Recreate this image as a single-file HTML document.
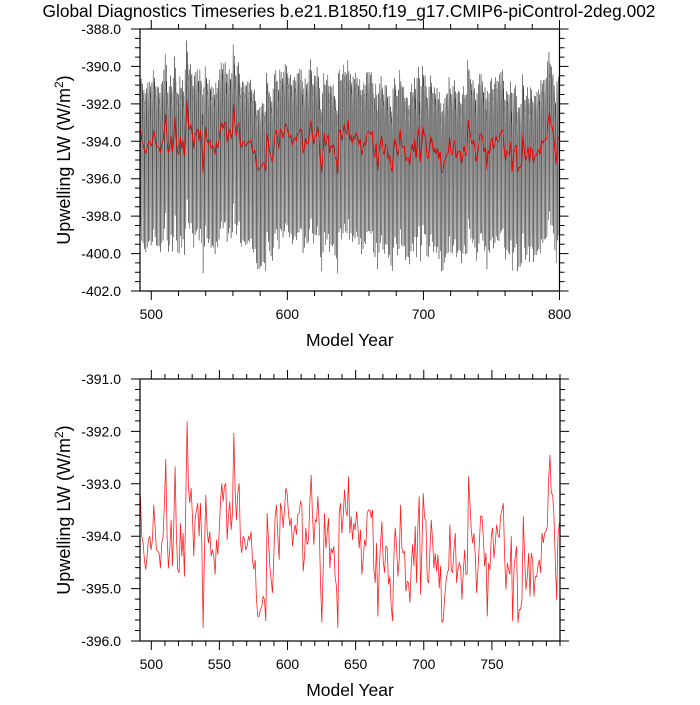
<!DOCTYPE html>
<html><head><meta charset="utf-8"><style>
html,body{margin:0;padding:0;background:#fff;}
svg text{font-family:"Liberation Sans",sans-serif;fill:#000;}
</style></head><body>
<svg id="chart" width="700" height="700" xmlns="http://www.w3.org/2000/svg">
<text x="349" y="17" font-size="17.3" text-anchor="middle">Global Diagnostics Timeseries b.e21.B1850.f19_g17.CMIP6-piControl-2deg.002</text>
<g id="top"></g>
<g id="bot"></g>
</svg>
<script>
const annualValues = [-393.24,-394.00,-394.13,-394.45,-394.64,-394.38,-394.07,-394.00,-394.26,-394.07,-393.40,-393.81,-394.26,-394.29,-394.32,-394.61,-394.13,-394.00,-393.37,-392.53,-394.00,-394.61,-394.26,-393.69,-394.57,-393.81,-392.67,-394.00,-394.64,-394.70,-393.75,-394.38,-393.94,-394.77,-393.37,-391.81,-393.05,-393.37,-393.08,-393.62,-394.38,-393.69,-393.50,-393.37,-394.00,-393.37,-394.13,-395.75,-394.32,-393.21,-393.88,-394.13,-393.91,-394.38,-394.26,-394.38,-394.73,-394.07,-394.35,-393.94,-393.37,-392.99,-393.34,-393.05,-392.99,-394.07,-393.62,-393.34,-393.88,-393.56,-392.03,-393.11,-393.69,-393.18,-392.99,-394.13,-394.32,-394.00,-394.07,-394.26,-394.19,-394.00,-394.07,-393.91,-394.45,-394.64,-394.45,-395.21,-395.53,-395.53,-395.40,-395.34,-395.15,-395.21,-395.62,-393.56,-394.07,-394.57,-394.83,-395.08,-394.38,-393.62,-393.40,-394.00,-394.45,-393.37,-393.50,-393.84,-393.50,-393.08,-393.18,-393.56,-393.81,-393.65,-394.19,-393.94,-393.78,-393.97,-393.59,-393.56,-393.34,-393.40,-394.67,-394.38,-393.84,-394.16,-394.07,-393.37,-392.83,-393.62,-394.16,-393.69,-393.72,-393.24,-393.75,-394.89,-395.65,-394.64,-393.56,-394.23,-393.94,-393.65,-394.61,-394.23,-394.32,-394.19,-394.80,-394.96,-395.75,-393.56,-393.37,-393.94,-393.62,-393.11,-393.50,-393.62,-392.86,
-393.94,-393.62,-394.07,-393.75,-393.88,-393.53,-393.81,-394.23,-393.88,-394.73,-394.45,-394.07,-394.19,-393.56,-393.50,-393.50,-393.65,-393.50,-394.64,-394.89,-394.13,-395.53,-394.64,-394.13,-393.72,-394.48,-394.70,-394.19,-394.23,-394.92,-394.77,-395.34,-395.62,-394.38,-393.84,-394.19,-394.77,-394.45,-393.40,-394.23,-394.32,-394.29,-395.05,-394.86,-394.89,-395.27,-394.57,-394.16,-394.57,-393.81,-394.89,-393.81,-393.24,-395.11,-394.26,-393.18,-393.65,-393.69,-394.83,-394.89,-394.29,-393.69,-394.07,-394.61,-394.32,-394.67,-394.35,-394.99,-394.57,-395.65,-395.59,-395.18,-394.89,-394.70,-394.64,-393.78,-394.64,-394.70,-394.26,-393.94,-394.89,-394.64,-394.51,-394.57,-395.21,-394.70,-394.26,-394.73,-394.70,-392.86,-393.37,-393.88,-394.13,-393.94,-394.38,-395.08,-394.64,-394.16,-393.62,-393.62,-394.00,-394.57,-394.32,-395.53,-394.51,-394.64,-394.00,-393.84,-394.42,-394.13,-393.78,-393.97,-394.03,-393.62,-393.50,-393.37,-394.38,-395.02,-394.51,-394.64,-394.73,-394.00,-395.62,-394.64,-394.38,-394.19,-395.65,-395.40,-395.40,-395.21,-393.62,-394.38,-395.02,-394.77,-394.32,-395.15,-394.32,-394.45,-395.15,-394.77,-394.77,-394.57,-394.45,-394.70,-393.94,-394.13,-393.94,-393.91,-393.81,-392.92,-392.45,-393.18,-393.21,-393.62,-394.51,-395.21,-394.00,-393.75];
const firstYear = 492, lastYear = 799.5;
const monthlyClimatology = [2.6,3.2,2.6,1.7,-0.2,-3.0,-5.3,-4.7,-2.0,0.6,2.0,2.6];
const topYTicks = [-388,-390,-392,-394,-396,-398,-400,-402];
const topXTicks = [500,600,700,800];
const botYTicks = [-391,-392,-393,-394,-395,-396];
const botXTicks = [500,550,600,650,700,750];

const NS='http://www.w3.org/2000/svg';
function mk(tag, attrs, parent){const e=document.createElementNS(NS,tag);for(const k in attrs)e.setAttribute(k,attrs[k]);parent.appendChild(e);return e;}
const years = annualValues.map((v,i)=>firstYear+i*(lastYear-firstYear)/(annualValues.length-1));

function panel(g, box, xr, yr, xt, xMinorStep, yt, yMinorStep, yDec, prefix){
  const sx=v=>box.l+(v-xr[0])/(xr[1]-xr[0])*(box.r-box.l);
  const sy=v=>box.t+(yr[0]-v)/(yr[0]-yr[1])*(box.b-box.t);
  const tk=[];
  for(let v=Math.ceil(xr[0]/xMinorStep)*xMinorStep; v<=xr[1]+1e-6; v+=xMinorStep){
    const major=xt.some(t=>Math.abs(t-v)<1e-6); const L=major?9:5; const x=sx(v);
    tk.push(`M${x},${box.t}V${box.t-L}M${x},${box.b}V${box.b+L}`);
  }
  const ymin=Math.min(yr[0],yr[1]), ymax=Math.max(yr[0],yr[1]);
  const n=Math.round((ymax-ymin)/yMinorStep);
  for(let i=0;i<=n;i++){const v=ymin+i*yMinorStep;
    const major=yt.some(t=>Math.abs(t-v)<1e-6); const L=major?9:5; const y=sy(v);
    tk.push(`M${box.l},${y}H${box.l-L}M${box.r},${y}H${box.r+L}`);
  }
  const ticks=mk('path',{d:tk.join(''),stroke:'#000','stroke-width':1,fill:'none'},g);
  
  
  xt.forEach(t=>{const e=mk('text',{x:sx(t),y:box.b+28,'font-size':14,'text-anchor':'middle'},g);e.textContent=t;
    
    });
  yt.forEach(t=>{const e=mk('text',{x:box.l-19,y:sy(t)+5,'font-size':14,'text-anchor':'end'},g);e.textContent=t.toFixed(1);
    
    });
  const xl=mk('text',{x:(box.l+box.r)/2,y:box.b+55,'font-size':17.5,'text-anchor':'middle'},g);xl.textContent='Model Year';
  
  
  const yl=mk('text',{x:0,y:0,'font-size':18,'text-anchor':'middle',transform:`translate(70,${(box.t+box.b)/2}) rotate(-90)`},g);
  yl.innerHTML='Upwelling LW (W/m<tspan dy="-7" font-size="12">2</tspan><tspan dy="7">)</tspan>';
  
  
  return {sx,sy};
}
function frame(g,box,prefix){
  const f=mk('rect',{x:box.l,y:box.t,width:box.r-box.l,height:box.b-box.t,fill:'none',stroke:'#000','stroke-width':1.2},g);
  
  
}

// top
const topBox={l:140,r:559.5,t:29,b:291};
const gt=document.getElementById('top');
const T=panel(gt,topBox,[491.7,800],[-388,-402],topXTicks,20,topYTicks,0.5,1,'top');
const cp=mk('clipPath',{id:'cpt'},gt); mk('rect',{x:topBox.l,y:topBox.t,width:topBox.r-topBox.l,height:topBox.b-topBox.t},cp);
let dm='';
annualValues.forEach((v,i)=>{
  const y0=years[i]-0.5;
  monthlyClimatology.forEach((c,m)=>{
    const yr=y0+(m+0.5)/12;
    dm+=(dm?'L':'M')+T.sx(yr).toFixed(2)+','+T.sy(v+c).toFixed(2);
  });
});
const blk=mk('path',{d:dm,fill:'none',stroke:'#222','stroke-width':0.5,'stroke-opacity':0.8,'clip-path':'url(#cpt)'},gt);


const redT=mk('path',{d:annualValues.map((v,i)=>(i?'L':'M')+T.sx(years[i]).toFixed(2)+','+T.sy(v).toFixed(2)).join(''),fill:'none',stroke:'#e00','stroke-width':0.9},gt);


frame(gt,topBox,'top');

// bottom
const botBox={l:140,r:560,t:379,b:641};
const gb=document.getElementById('bot');
const B=panel(gb,botBox,[491.7,800],[-391,-396],botXTicks,10,botYTicks,0.2,1,'bottom');
const redB=mk('path',{d:annualValues.map((v,i)=>(i?'L':'M')+B.sx(years[i]).toFixed(2)+','+B.sy(v).toFixed(2)).join(''),fill:'none',stroke:'#f22','stroke-width':0.8},gb);


frame(gb,botBox,'bottom');
</script>
</body></html>
